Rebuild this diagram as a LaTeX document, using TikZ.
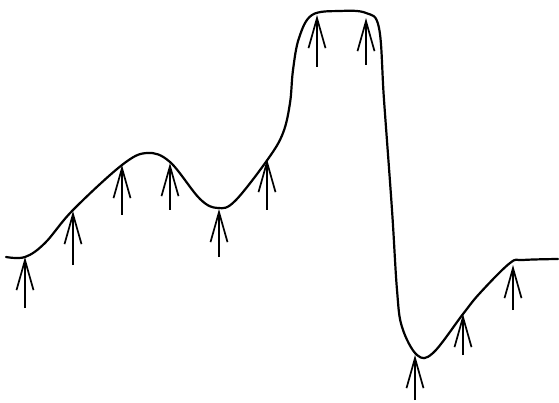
\documentclass[tikz,border=0pt]{standalone}
\usetikzlibrary{arrows.meta}

\begin{document}
\begin{tikzpicture}[
    x=1pt,y=-1pt,
    profile/.style={line width=2.2pt,line join=round,line cap=round},
    lift/.style={line width=1.9pt,-{Straight Barb[length=30pt,width=17pt,line width=1.7pt]}}
  ]
  \useasboundingbox (0,0) rectangle (559,403);
  % the surface
  \draw[profile] plot[smooth,tension=0.6] coordinates {
    (6,257) (25,257) (45,243) (73,210) (122,165) (147,153)
    (170,162) (200,199) (218,208) (235,201) (268,159)
    (283,133) (290,103) (293,70) (299,38) (312,15) (340,11) (366,13)
    (379,28) (384,100) (392,210) (397,290) (402,327) (417,355)
    (433,353) (463,314) (480,293) (510,263) (523,260) (558,259)};
  % upward arrows, tip on the surface
  \foreach \x/\tip/\tail in {25/257/308, 73/211/265, 122/165/215, 170/163/210,
      219/209/257, 267/159/210, 317/15/67, 366/18/65, 415/355/400,
      463/314/355, 513/265/310}
    \draw[lift] (\x,\tail) -- (\x,\tip);
\end{tikzpicture}
\end{document}
